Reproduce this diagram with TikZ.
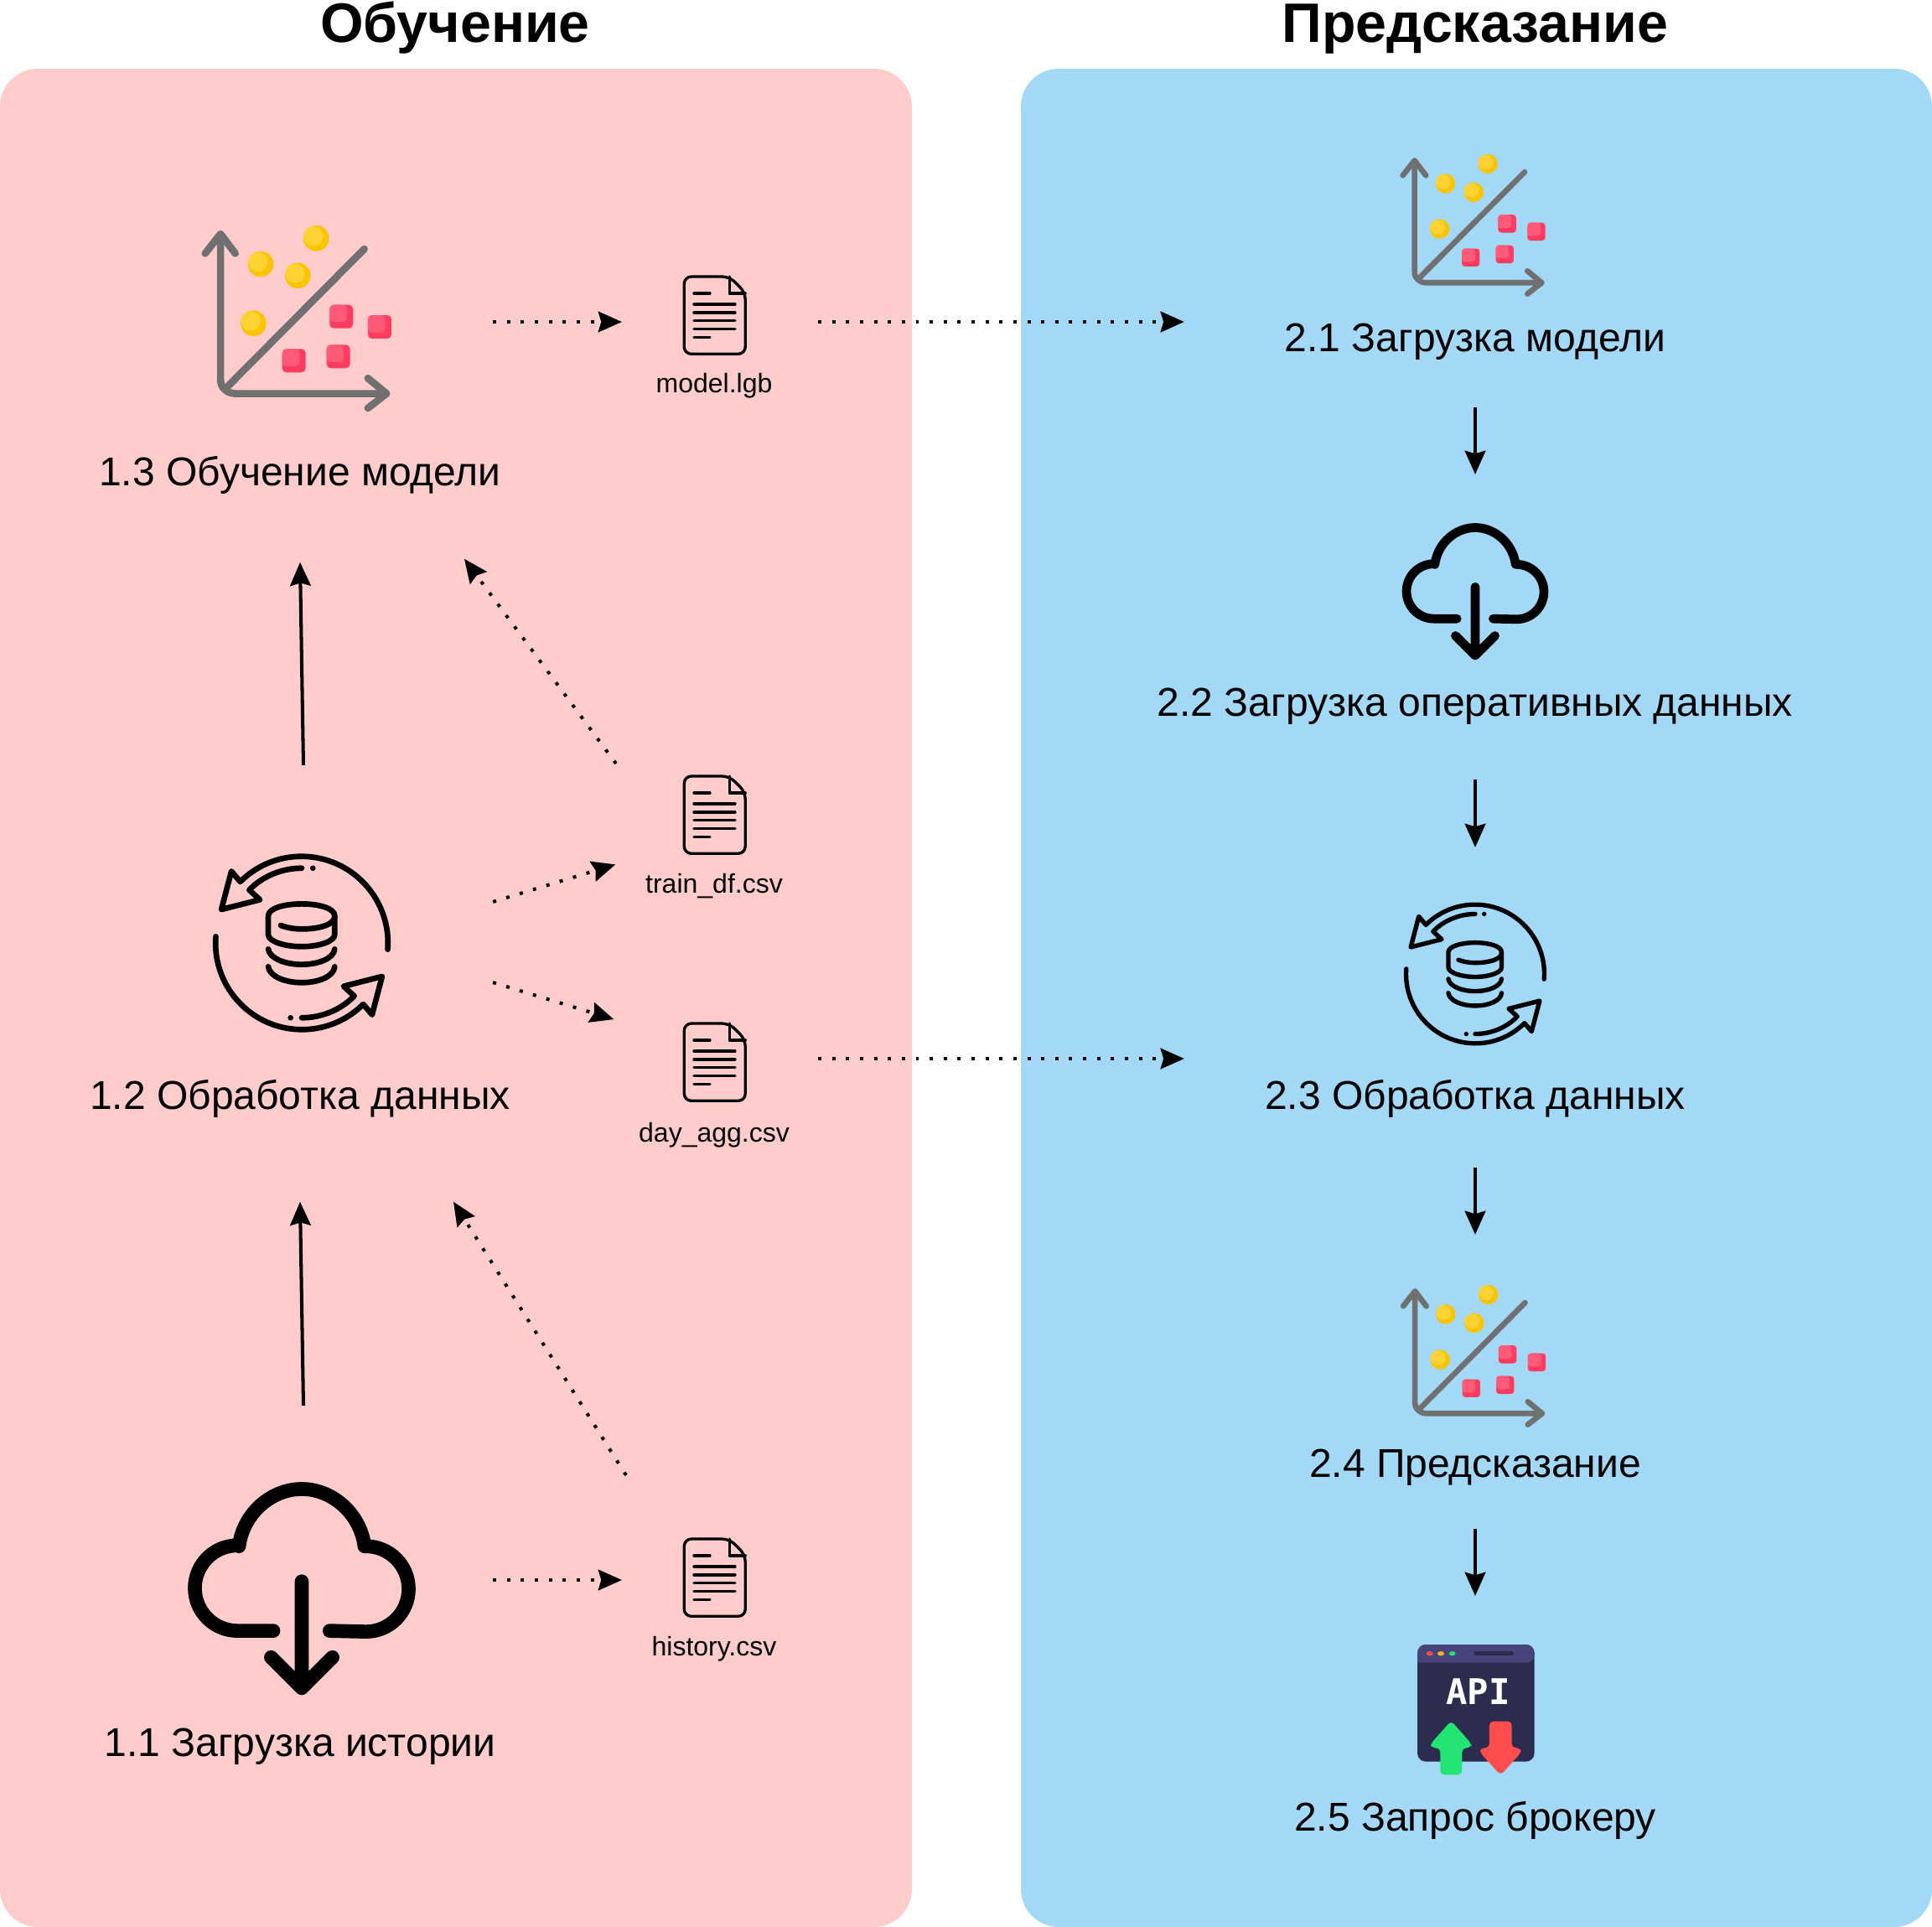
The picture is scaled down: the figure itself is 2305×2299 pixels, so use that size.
\documentclass[tikz,border=0pt]{standalone}
\usepackage{fontspec}
\usepackage{xcolor}
\usepackage{tikz}
\usetikzlibrary{arrows.meta, positioning, calc}
\setmainfont{Liberation Sans}
\newfontfamily\apifont{DejaVu Sans Mono}

\definecolor{panelred}{HTML}{FFCCCC}
\definecolor{panelblue}{HTML}{A3D8F7}
\definecolor{axisgray}{HTML}{707070}
\definecolor{coindark}{HTML}{FBC400}
\definecolor{coinlight}{HTML}{FFD233}
\definecolor{gemdark}{HTML}{FF3B5F}
\definecolor{gemlight}{HTML}{FF5B78}
\definecolor{apibody}{HTML}{2B2C4E}
\definecolor{apihead}{HTML}{46447A}
\definecolor{apigreen}{HTML}{22E574}
\definecolor{apired}{HTML}{FF4D4D}
\definecolor{apiorange}{HTML}{FFB11F}

\newcommand{\coin}[2]{%
  \fill[coindark] (#1,#2) circle (46);
  \fill[coinlight] (#1-10,#2-8) circle (35);}
\newcommand{\gem}[3]{%
  \fill[gemdark, rounded corners=#3*4.2pt] (#1-42,#2-42) rectangle (#1+42,#2+42);
  \fill[gemlight, rounded corners=#3*4.2pt] (#1-42,#2-42) rectangle (#1+20,#2+20);}

\tikzset{
  pics/chart/.style={code={
    \begin{scope}[scale=#1, shift={(-460,-430)}]
      \draw[axisgray, line width=#1*7.4pt, line cap=round, line join=round]
        (135,188) -- (190,118) -- (243,188)
        (190,118) -- (190,640) .. controls (190,670) and (215,690) .. (245,690) -- (785,690)
        (718,635) -- (785,690) -- (718,742)
        (705,172) -- (215,665);
      \coin{533}{134}
      \coin{334}{226}
      \coin{467}{267}
      \coin{308}{438}
      \gem{623}{414}{#1}
      \gem{760}{451}{#1}
      \gem{612}{557}{#1}
      \gem{453}{572}{#1}
    \end{scope}
  }},
  pics/cloud/.style={code={
    \begin{scope}[scale=#1, shift={(-480,-430)}]
      \draw[black, line width=#1*14.2pt, line cap=round, line join=round]
        (378,585) -- (250,585) arc (90:270:153) -- (255,282)
        .. controls (270,165) and (370,77) .. (480,77)
        .. controls (590,77) and (690,165) .. (705,282)
        -- (710,282) arc (-90:90:153) -- (580,585)
        (480,408) -- (480,790)
        (370,680) -- (480,790) -- (590,680);
    \end{scope}
  }},
  pics/database/.style={code={
    \begin{scope}[scale=#1, shift={(-420,-375)}, black, line width=#1*5.7pt, line cap=round, line join=round]
      \draw (300,345) -- (300,278) .. controls (300,250) and (360,235) .. (420,235)
        .. controls (480,235) and (538,250) .. (538,278) -- (538,345)
        .. controls (538,370) and (480,388) .. (420,388)
        .. controls (360,388) and (300,370) .. (300,345) -- cycle;
      \draw (345,312) .. controls (370,322) and (400,325) .. (420,325)
        .. controls (480,325) and (538,310) .. (538,280);
      \draw (300,397) .. controls (305,430) and (360,452) .. (420,452)
        .. controls (480,452) and (535,430) .. (538,397);
      \draw (300,460) .. controls (305,495) and (360,517) .. (420,517)
        .. controls (480,517) and (535,495) .. (538,460);
    \end{scope}
    \foreach \turn in {0,180}{
      \begin{scope}[scale=#1, rotate=\turn, shift={(-420,-375)}, black, line width=#1*5.7pt, line cap=round, line join=round]
        \draw (728,398) arc (4.3:-135:310) -- (168,118) -- (132,255) -- (270,220) -- (232,185)
          .. controls (280,135) and (350,107) .. (420,107);
        \fill (460,107) circle (10);
      \end{scope}
    }
  }},
  pics/filedoc/.style={code={
    \begin{scope}[scale=0.333, shift={(-217,-196)}, black, line width=.95pt, line cap=round, line join=round]
      \draw[rounded corners=2.4pt] (200,58) -- (270,58) -- (327,115) -- (327,335) -- (108,335) -- (108,58) -- cycle;
      \draw (270,58) -- (270,118) -- (327,118);
      \draw (143,118) -- (200,118) (143,157) -- (290,157) (143,187) -- (290,187);
      \draw (143,216) -- (290,216) (143,246) -- (290,246) (143,275) -- (200,275);
    \end{scope}
  }},
  pics/apiwindow/.style={code={
    \begin{scope}[scale=0.333, shift={(-275,-275)}]
      \fill[apibody, rounded corners=2.8pt] (65,65) rectangle (484,484);
      \fill[apihead, rounded corners=2.8pt] (65,65) -- (484,65) -- (484,130) [sharp corners] -- (65,130) [rounded corners=2.8pt] -- cycle;
      \fill[apired] (109,97) ellipse (12 and 8);
      \fill[apiorange] (149,97) ellipse (12 and 8);
      \fill[apigreen] (190,97) ellipse (12 and 8);
      \draw[apibody, line width=1.5pt, line cap=round] (275,97) -- (403,97);
      \node[apilabel] (apitext) at (282,233) {API};
      \fill[apigreen, rounded corners=1.4pt] (186,338) -- (258,420) -- (258,435) -- (225,435)
        -- (225,531) -- (147,531) -- (147,435) -- (113,435) -- (113,420) -- cycle;
      \fill[apired, rounded corners=1.4pt] (323,340) -- (403,340) -- (403,435) -- (436,435)
        -- (436,452) -- (363,533) -- (290,452) -- (290,435) -- (323,435) -- cycle;
    \end{scope}
  }}
}

\begin{document}
\begin{tikzpicture}[
    x=0.01cm, y=-0.01cm,
    apilabel/.style={inner sep=0pt, white, font=\apifont\bfseries\fontsize{12}{13}\selectfont},
    headtitle/.style={font=\bfseries\fontsize{18.85}{22}\selectfont, inner sep=0pt, text height=14pt, text depth=3pt},
    steplabel/.style={font=\fontsize{13.65}{16}\selectfont, inner sep=0pt, text height=11.7pt, text depth=1.3pt},
    filelabel/.style={font=\fontsize{9.1}{11}\selectfont, inner sep=0pt},
    slot/.style={inner sep=0pt, outer sep=0pt, minimum width=#1},
    filebox/.style={inner sep=0pt, outer sep=0pt, minimum width=2.34cm, minimum height=#1},
    flow/.style={line width=1.15pt, -{Stealth[length=8pt, width=7pt, inset=1pt]}},
    dep/.style={line width=1.13pt, dash pattern=on 1.13pt off 3.6pt, -{Stealth[length=8pt, width=7pt, inset=1pt]}}
  ]
  \useasboundingbox (0,0) rectangle (2305,2299);

  \fill[panelred, rounded corners=0.45cm] (0,82) rectangle (1088,2299);
  \fill[panelblue, rounded corners=0.45cm] (1218,82) rectangle (2305,2299);

  \node[headtitle] (titletrain) at (543,31) {Обучение};
  \node[headtitle] (titlepredict) at (1760,31) {Предсказание};

  % left column
  \node[slot=4.7cm] (icon13) at (353,384) {};
  \node[slot=4.52cm, minimum height=4.22cm] (icon12) at (362,1124) {};
  \node[slot=4.52cm, minimum height=4.16cm] (icon11) at (362,1885) {};
  \pic at (353,383) {chart=0.333};
  \pic at (360,1125) {database=0.333};
  \pic at (360,1894) {cloud=0.333};

  \node[steplabel, minimum height=2.18cm] (step13) at (358,561) {1.3 Обучение модели};
  \node[steplabel, minimum height=2.56cm] (step12) at (358,1305) {1.2 Обработка данных};
  \node[steplabel] (step11) at (358,2077) {1.1 Загрузка истории};

  % files
  \node[filebox=1cm] (model) at (859,384) {};
  \node[filebox=1.18cm] (train) at (859,970) {};
  \node[filebox=0.88cm] (dayagg) at (859,1263) {};
  \node[filebox=2.5cm] (history) at (859,1885) {};
  \pic at (852.6,376) {filedoc};
  \pic at (852.6,972) {filedoc};
  \pic at (852.6,1267) {filedoc};
  \pic at (852.6,1882) {filedoc};
  \node[filelabel] (modelname) at (852,460) {model.lgb};
  \node[filelabel] (trainname) at (852,1057) {train\_df.csv};
  \node[filelabel] (daygname) at (852,1354) {day\_agg.csv};
  \node[filelabel] (historyname) at (852,1967) {history.csv};

  % right column
  \node[slot=6.94cm, minimum height=2.34cm] (icon21) at (1760,267) {};
  \node[slot=3cm, minimum height=2.78cm] (icon22) at (1760,705) {};
  \node[slot=6.94cm, minimum height=3.02cm] (icon23) at (1760,1162) {};
  \node[slot=3cm, minimum height=2.92cm] (icon24) at (1760,1619) {};
  \node[slot=2cm, minimum height=2.42cm] (icon25) at (1760,2025) {};
  \pic at (1756.5,271) {chart=0.255};
  \pic at (1760,705) {cloud=0.214};
  \pic at (1760,1162) {database=0.267};
  \pic at (1757,1620) {chart=0.255};
  \pic at (1761,2032) {apiwindow};

  \node[steplabel, minimum height=1.68cm] (step21) at (1760,401) {2.1 Загрузка модели};
  \node[steplabel, minimum height=1.86cm] (step22) at (1760,836) {2.2 Загрузка оперативных данных};
  \node[steplabel, minimum height=1.74cm] (step23) at (1760,1305) {2.3 Обработка данных};
  \node[steplabel, minimum height=1.58cm] (step24) at (1760,1744) {2.4 Предсказание};
  \node[steplabel] (step25) at (1760,2166) {2.5 Запрос брокеру};

  \draw[flow] (icon11.north) -- (step12.south);
  \draw[flow] (icon12.north) -- (step13.south);
  \draw[dep] (icon13.east) -- (model.west);
  \draw[dep] (icon11.east) -- (history.west);
  \draw[dep, shorten >=0.08cm] (icon12.12.7) -- (train.south west);
  \draw[dep, shorten >=0.1cm] (icon12.-12.7) -- (dayagg.north west);
  \draw[dep] ([shift={(-7,0)}]train.north west) -- ([shift={(196,-4)}]step13.south);
  \draw[dep] ([shift={(5,0)}]history.north west) -- ([shift={(183,0)}]step12.south);
  \draw[dep] (model.east) -- (model.east -| icon21.west);
  \draw[dep] (dayagg.east) -- (dayagg.east -| icon23.west);

  \draw[flow] (step21.south) -- (icon22.north);
  \draw[flow] (step22.south) -- (icon23.north);
  \draw[flow] (step23.south) -- (icon24.north);
  \draw[flow] (step24.south) -- (icon25.north);
\end{tikzpicture}
\end{document}
